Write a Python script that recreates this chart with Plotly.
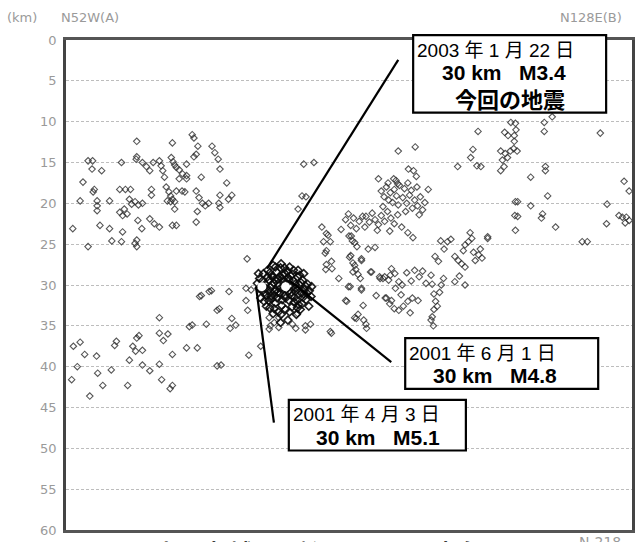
import plotly.graph_objects as go

# ---- data: (distance along A-B profile [arbitrary 0-100], depth [km]) ----
upper_west = [(1.2,23.1),(3.0,17.4),(2.5,19.7),(3.9,25.3),(3.9,14.8),(4.7,14.8),(4.6,15.8),(6.3,16.0),(4.8,18.6),(5.0,18.3),
              (5.5,19.7),(5.5,20.3),(5.5,20.9),(6.0,22.7),(7.7,23.1),(7.7,19.7),(8.1,24.6),(9.8,24.7),(10.0,23.5),(9.8,15.0),
              (9.5,18.3),(10.5,18.3),(11.4,18.3),(9.5,21.1),(10.0,21.5),(10.8,21.3),(10.3,20.7),(11.2,19.5),(11.6,20.1),(12.2,19.8),
              (12.8,20.2),(13.5,20.0),(12.5,12.4),(12.5,14.3),(12.4,14.6),(12.7,22.1),(13.4,23.1),(12.5,24.5),(12.2,24.9),(12.5,25.3),
              (13.5,15.0),(14.2,15.5),(14.8,16.0),(15.4,15.0),(15.1,18.3),(15.1,19.0),(14.8,21.9),(15.6,22.5),(16.5,22.9),(16.5,14.8),
              (16.8,15.4),(17.1,16.0),(17.4,16.8),(17.7,18.0),(18.2,18.6),(18.5,19.1),(18.8,19.5),(19.2,19.8),(18.5,19.8),(17.9,19.7),
              (18.8,12.6),(18.6,14.4),(18.9,14.9),(19.2,15.3),(19.5,15.6),(20.0,15.9),(20.6,16.4),(21.3,17.0),(21.3,15.2),(20.0,17.0),
              (21.3,16.6),(18.8,22.7),(19.5,22.7),(19.2,20.7),(19.5,18.5),(20.5,18.5),(21.0,18.6),(22.3,11.6),(22.6,12.0),(23.3,13.0),
              (23.0,14.0),(22.6,14.3),(23.9,16.8),(23.0,18.5),(23.5,19.3),(24.1,20.0),(24.6,20.3),(25.2,20.0),(23.2,21.0),(23.0,22.3),
              (25.8,13.0),(26.3,13.8),(26.9,14.6),(27.2,15.8),(27.2,19.0),(27.2,20.5),(27.0,20.0),(28.7,19.5),(29.3,19.0),(28.4,17.5)]

lower_west = [(1.0,41.6),(1.3,37.5),(2.5,37.0),(3.3,38.5),(2.0,40.0),(5.4,38.7),(5.6,40.8),(4.2,43.6),(6.5,42.3),(8.0,40.4),
              (8.6,37.4),(8.9,36.9),(10.9,42.3),(11.2,39.2),(11.8,37.5),(12.5,36.5),(12.9,36.2),(13.5,38.0),(12.3,38.1),(13.5,39.8),
              (14.8,40.5),(16.5,34.0),(16.5,35.9),(17.2,36.8),(18.0,36.0),(16.5,39.7),(16.9,41.6),(18.8,42.3),(18.4,42.7),(18.8,38.5),
              (21.3,37.7),(23.2,37.7),(21.8,35.1),(22.3,34.9),(23.6,31.4),(25.3,30.8),(24.8,34.8),(26.7,33.1),(26.7,39.9)]

around_cluster = [(23.9,31.3),(25.7,30.7),(27.1,32.9),(28.8,30.8),(27.4,39.8),(29.3,34.1),(30.0,34.9),(29.0,35.3),(32.3,38.6),(32.0,26.8),
                  (31.8,30.4),(32.7,30.6),(31.8,31.9),(32.1,33.1),(34.4,37.5),(35.9,34.0),(36.1,35.0),(35.9,35.4),(36.8,34.6),(37.6,34.0),
                  (37.6,35.2),(40.0,34.8),(40.9,33.5),(40.6,35.3),(42.3,35.0),(43.2,34.8),(42.3,35.5),(46.9,35.9),(45.5,24.7),(46.3,23.9),
                  (45.8,26.1),(46.9,27.1),(50.4,24.0),(51.0,24.8),(50.1,26.6),(51.0,27.6),(50.7,28.4),(52.2,27.0),(53.4,25.6),(54.6,25.4),
                  (54.0,28.4),(56.0,29.2),(55.4,29.0),(57.3,28.8),(49.4,31.9),(52.2,30.4),(50.2,30.2),(52.5,32.5),(56.6,31.6),(57.5,31.9),
                  (58.2,30.4),(51.0,34.0),(51.6,33.6),(53.0,34.8),(48.2,29.2)]

aftershock_cluster = [(33.8,29.8),(34.2,29.2),(34.5,30.6),(34.9,28.6),(35.2,29.9),(35.4,31.2),(35.6,28.2),(35.9,29.4),(36.1,30.3),(36.3,31.7),
                      (36.4,28.9),(36.7,29.7),(36.9,30.8),(37.0,32.2),(37.2,28.4),(37.4,29.3),(37.6,30.1),(37.8,31.0),(37.9,27.9),(38.1,32.5),
                      (38.3,28.8),(38.5,29.6),(38.6,31.3),(38.9,30.5),(39.1,28.3),(39.2,29.1),(39.4,31.9),(39.6,30.0),(39.8,30.9),(40.0,28.7),
                      (40.2,29.5),(40.4,31.5),(40.6,30.4),(40.9,29.0),(41.1,32.4),(41.3,30.0),(41.6,31.0),(41.8,29.4),(42.1,30.6),(42.4,31.8),
                      (42.7,29.9),(43.0,30.7),(43.3,31.4),(35.0,32.0),(36.0,32.8),(37.5,33.3),(38.8,33.0),(39.9,32.7),(40.7,33.6),(36.6,27.6),
                      (38.0,27.4),(39.5,27.8),(41.0,28.2),(42.0,28.6),(34.4,31.6),(35.7,30.7),(37.1,30.6),(38.4,30.2),(39.0,29.8),(37.7,29.0),
                      (36.5,29.0),(40.5,30.8),(41.7,32.3),(34.0,28.6),(42.9,32.6),(39.2,34.3),(37.9,34.6),(41.4,33.0),(35.3,30.4),(36.2,31.4),
                      (37.3,31.6),(38.2,31.8),(39.3,30.8),(40.3,32.1),(41.9,31.5),(36.8,32.9),(35.6,29.0),(38.7,28.6),(40.8,31.9),(42.3,30.1),
                      (34.7,29.5),(35.1,30.9),(35.8,31.9),(36.4,30.0),(36.9,29.3),(37.4,30.9),(37.9,30.4),(38.2,29.2),(38.8,31.6),(39.4,29.4),
                      (39.9,31.3),(40.5,29.9),(41.0,30.5),(41.5,29.7),(42.0,31.1),(36.0,28.5),(37.0,27.8),(38.6,27.9),(40.2,28.2),(41.3,28.8),
                      (35.4,32.6),(36.6,33.5),(38.0,33.6),(39.5,33.3),(40.9,32.8),(42.6,31.0),(43.4,30.2),(34.1,30.4),(36.8,31.3),(39.7,28.9)]

east_swarm = [(58.7,13.6),(61.7,13.1),(72.8,11.2),(71.9,13.4),(71.5,14.4),(69.2,15.5),(72.6,15.4),(73.3,15.5),(60.5,15.8),(61.4,16.0),
              (61.9,16.7),(55.2,17.0),(58.3,17.2),(58.6,17.6),(64.0,18.3),
              (55.7,18.5),(56.2,19.2),(56.6,18.0),(57.0,19.6),(57.3,18.7),(57.7,19.9),(58.0,18.3),(58.4,19.1),(58.7,20.2),(56.9,17.5),
              (57.9,17.0),(58.9,17.8),(59.5,19.3),(60.2,20.0),(60.7,19.0),(61.2,20.6),(61.6,19.6),(62.1,20.3),(62.6,19.2),(63.0,20.8),
              (63.4,19.9),(60.0,21.0),(62.4,21.4),(59.8,18.2),(61.0,18.4),(62.0,18.0),(60.4,17.5),
              (53.0,21.6),(53.6,22.3),(54.1,21.2),(54.6,22.0),(55.2,22.6),(55.7,21.5),(56.3,22.2),(56.8,21.0),(57.4,21.8),(58.0,22.5),
              (58.6,21.4),(55.0,23.3),(57.2,23.4),(59.3,22.9),(60.4,23.6),(61.3,24.2),(56.0,20.4),
              (49.4,22.0),(49.9,21.3),(50.3,22.7),(50.8,21.8),(51.3,23.1),(51.8,22.2),(52.4,21.6),(52.8,22.9),(50.0,24.0),(50.6,24.6),
              (51.4,25.3),(48.6,23.2)]

east_deep = [(45.2,22.9),(46.0,23.7),(46.7,24.7),(46.0,25.8),(50.3,26.4),(50.7,27.3),(51.2,28.1),(51.6,28.7),(52.0,29.2),(46.0,27.5),
             (47.0,28.0),(45.9,28.1),(53.8,28.4),(52.2,26.8),(55.5,29.2),(56.3,29.0),(57.0,29.4),(49.9,30.2),(52.2,30.6),(54.8,31.3),
             (49.6,32.0),(51.3,34.1),(52.6,34.3),(53.1,35.3),(46.7,35.7),
             (56.4,31.6),(57.2,32.3),(58.0,32.9),(58.8,33.1),(59.6,32.6),(60.4,32.0),(61.2,31.6),(62.2,31.9),(59.2,31.2),(60.8,33.4),
             (57.5,28.0),(58.1,28.6),(58.8,29.6),(59.4,30.0),(60.2,28.5),(61.0,29.5),(61.6,28.2),(62.4,29.0),(63.0,28.3),(63.6,29.8),
             (64.5,28.8),(64.7,29.9),(65.0,31.1),(65.3,32.0),(65.0,33.0),(64.7,33.9),(65.6,32.6),(66.0,30.9),(66.3,30.0),(66.7,29.2),
             (64.5,34.3),(64.9,35.0),(65.2,26.5),(65.8,27.1),(66.8,25.6),(67.4,24.7),(66.2,24.6),(68.0,24.4),
             (68.7,26.5),(69.3,27.0),(69.9,27.4),(70.5,27.8),(70.2,25.8),(70.5,25.1),(71.1,24.7),(71.7,24.3),(72.0,26.0),(72.3,27.0),
             (72.9,26.3),(73.2,25.6),(73.5,26.7),(71.4,23.6),(74.5,24.1),(68.7,29.6),(70.5,30.0),(69.5,28.9)]

far_east = [(78.6,10.1),(79.4,10.2),(77.5,11.3),(78.1,11.7),(79.2,11.7),(79.5,11.0),(79.2,12.4),(76.8,13.6),(77.6,13.9),(78.5,13.6),
            (79.1,13.3),(79.7,13.6),(77.1,14.7),(78.0,14.4),(76.8,16.0),(77.4,15.5),(84.5,10.1),(84.5,11.2),(85.9,9.4),(82.1,16.8),
            (84.7,15.5),(84.7,16.0),(85.1,19.1),(79.4,19.8),(79.8,19.8),(82.1,20.3),(79.3,21.5),(79.8,21.6),(84.2,21.3),(84.0,21.8),
            (86.5,22.9),(79.4,23.3),(74.5,24.3),(91.2,24.7),(92.1,24.7),(94.4,11.4),(95.6,20.1),(95.5,22.5),(97.7,21.5),(98.3,21.7),
            (99.0,21.7),(99.5,22.1),(98.8,22.4),(98.6,17.3),(99.5,18.5),(42.0,15.2),(43.8,15.0),(41.7,19.1),(42.4,19.2),(41.0,20.7)]

main_events = [(34.6, 30.2), (38.8, 30.2)]

depth_ticks = list(range(0, 61, 5))

background = upper_west + lower_west + around_cluster + east_swarm + east_deep + far_east

fig = go.Figure()
fig.add_trace(go.Scatter(
    x=[p[0] for p in background], y=[p[1] for p in background], mode="markers",
    marker=dict(symbol="diamond-open", size=5, color="rgba(45,45,45,0.8)", line=dict(width=1.1)),
    showlegend=False, hoverinfo="skip"))
fig.add_trace(go.Scatter(
    x=[p[0] for p in aftershock_cluster], y=[p[1] for p in aftershock_cluster], mode="markers",
    marker=dict(symbol="diamond-open", size=6, color="rgba(10,10,10,0.9)", line=dict(width=1.6)),
    showlegend=False, hoverinfo="skip"))
fig.add_trace(go.Scatter(
    x=[p[0] for p in main_events], y=[p[1] for p in main_events], mode="markers",
    marker=dict(symbol="circle", size=9, color="white", line=dict(width=0)),
    showlegend=False, hoverinfo="skip"))

L, R, T, B = 66, 635, 40, 533
W, H = 639, 542


def px(x):
    return (x - L) / (R - L)


def py(y):
    return 1 - (y - T) / (B - T)


shapes = []
# leader lines
for (x0, y0, x1, y1) in [(268, 270, 400, 60), (292, 283, 393, 364), (257, 288, 275, 425)]:
    shapes.append(dict(type="line", xref="paper", yref="paper", x0=px(x0), y0=py(y0), x1=px(x1), y1=py(y1),
                       line=dict(color="black", width=2.2)))
# boxes
for (x0, y0, x1, y1) in [(415, 35, 609, 113), (407, 340, 601, 391), (290, 402, 468, 453)]:
    shapes.append(dict(type="rect", xref="paper", yref="paper", x0=px(x0), y0=py(y0), x1=px(x1), y1=py(y1),
                       fillcolor="white", line=dict(color="black", width=2.2)))

jp = "Liberation Sans, Noto Sans CJK JP, sans-serif"
jpb = "Noto Sans CJK JP, Liberation Sans, sans-serif"
ann = []


def text(t, x, y, size, bold=False, anchor="left", color="black", family=jp):
    ann.append(dict(text=("<b>%s</b>" % t) if bold else t, xref="paper", yref="paper",
                    x=px(x), y=py(y), xanchor=anchor, yanchor="middle", showarrow=False,
                    font=dict(size=size, color=color, family=family)))


text("2003 年 1 月 22 日", 417, 51, 19)
text("30 km&nbsp;&nbsp;&nbsp;M3.4", 506, 73, 21, bold=True, anchor="center")
text("今回の地震", 512, 98, 22, bold=True, anchor="center", family=jpb)
text("2001 年 6 月 1 日", 409, 355, 19)
text("30 km&nbsp;&nbsp;&nbsp;M4.8", 497, 378, 21, bold=True, anchor="center")
text("2001 年 4 月 3 日", 292, 417, 19)
text("30 km&nbsp;&nbsp;&nbsp;M5.1", 380, 440, 21, bold=True, anchor="center")

gray = "#9a9a9a"
text("(km)", 5, 17, 13, color=gray, family="DejaVu Sans")
text("N52W(A)", 59, 17, 13, color=gray, family="DejaVu Sans")
text("N128E(B)", 627, 17, 13, anchor="right", color=gray, family="DejaVu Sans")
# caption at the bottom edge (only its top part shows in the frame)
ann.append(dict(text="<b>上図(領域a)の断面図（A－B方向）</b>", xref="paper", yref="paper",
                x=px(330), y=py(535), xanchor="center", yanchor="top", showarrow=False,
                font=dict(size=22, color="black", family=jpb)))
ann.append(dict(text="N-218", xref="paper", yref="paper", x=px(580), y=py(535), xanchor="left",
                yanchor="top", showarrow=False, font=dict(size=14, color=gray, family="DejaVu Sans")))

fig.update_layout(
    width=W, height=H,
    margin=dict(l=L, r=W - R, t=T, b=H - B),
    paper_bgcolor="white", plot_bgcolor="white",
    shapes=shapes, annotations=ann,
    xaxis=dict(range=[0, 100], showticklabels=False, ticks="", showgrid=False, zeroline=False,
               showline=True, mirror=True, linecolor="#555", linewidth=2.5),
    yaxis=dict(range=[60, 0], tickvals=depth_ticks, ticktext=[str(v) for v in depth_ticks],
               showgrid=True, gridcolor="#bdbdbd", gridwidth=1, griddash="3px,2px", zeroline=False,
               showline=True, mirror=True, linecolor="#444", linewidth=2.5, ticks="",
               tickfont=dict(size=13, color=gray, family="DejaVu Sans"), ticklabelstandoff=4),
)

fig.write_html("out.html", config={"displayModeBar": False},
               post_script="document.body.style.margin='0';document.body.style.overflow='hidden';")
